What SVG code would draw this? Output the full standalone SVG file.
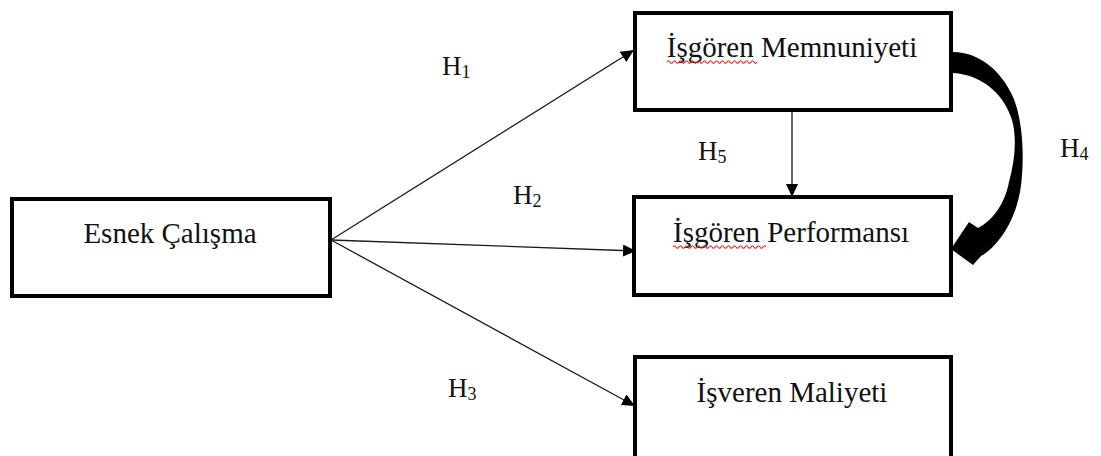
<svg xmlns="http://www.w3.org/2000/svg" width="1101" height="456" viewBox="0 0 1101 456">
  <style>
    .box { fill: #fff; stroke: #000; stroke-width: 4; }
    .label { font-family: "Liberation Serif", "Times New Roman", serif; font-size: 29px; fill: #111; }
    .hyp { font-family: "Liberation Serif", "Times New Roman", serif; font-size: 27px; fill: #111; }
    .sub { font-size: 18px; }
    .link { fill: none; stroke: #1a1a1a; stroke-width: 1.3; }
    .squiggle { fill: none; stroke: #e02020; stroke-width: 1.1; }
  </style>
  <defs>
    <marker id="tri" markerUnits="userSpaceOnUse" markerWidth="14" markerHeight="12" refX="13" refY="6" orient="auto">
      <path d="M0,0 L13,6 L0,12 Z" fill="#000"/>
    </marker>
  </defs>

  <rect width="1101" height="456" fill="#fff"/>

  <!-- straight connectors from the source box -->
  <g id="connectors">
    <line class="link" x1="331" y1="240" x2="634" y2="50" marker-end="url(#tri)"/>
    <line class="link" x1="331" y1="240" x2="636" y2="251" marker-end="url(#tri)"/>
    <line class="link" x1="331" y1="240" x2="635" y2="406" marker-end="url(#tri)"/>
    <line class="link" x1="792" y1="112" x2="792" y2="197" marker-end="url(#tri)"/>
    <!-- thick curved arrow between the two employee boxes -->
    <path d="M953,52 C980,52 1002,72 1013,97 C1022,118 1024,150 1022,175 C1020,215 1000,245 981,256 L973,265 L951,249 L969,222 L978,228 C992,221 1005,204 1009,182 C1015,160 1017,138 1012,120 C1005,97 985,75 953,73 Z" fill="#000"/>
  </g>

  <g id="node-esnek">
    <rect class="box" x="12" y="199" width="318" height="97"/>
    <text class="label" x="170" y="243" text-anchor="middle">Esnek Çalışma</text>
  </g>

  <g id="node-memnuniyet">
    <rect class="box" x="635" y="13" width="316" height="97"/>
    <text class="label" x="792" y="57" text-anchor="middle">İşgören Memnuniyeti</text>
    <path class="squiggle" d="M667,62 q1.5,-2.5 3,0 t3,0 t3,0 t3,0 t3,0 t3,0 t3,0 t3,0 t3,0 t3,0 t3,0 t3,0 t3,0 t3,0 t3,0 t3,0 t3,0 t3,0 t3,0 t3,0 t3,0 t3,0 t3,0 t3,0 t3,0 t3,0 t3,0 t3,0 t3,0 t3,0"/>
  </g>

  <g id="node-performans">
    <rect class="box" x="634" y="197" width="317" height="98"/>
    <text class="label" x="791" y="242" text-anchor="middle">İşgören Performansı</text>
    <path class="squiggle" d="M673,247 q1.5,-2.5 3,0 t3,0 t3,0 t3,0 t3,0 t3,0 t3,0 t3,0 t3,0 t3,0 t3,0 t3,0 t3,0 t3,0 t3,0 t3,0 t3,0 t3,0 t3,0 t3,0 t3,0 t3,0 t3,0 t3,0 t3,0 t3,0 t3,0 t3,0 t3,0 t3,0 t3,0"/>
  </g>

  <g id="node-maliyet">
    <rect class="box" x="635" y="357" width="316" height="104"/>
    <text class="label" x="792" y="402" text-anchor="middle">İşveren Maliyeti</text>
  </g>

  <g id="hypothesis-labels">
    <text class="hyp" x="442" y="75">H<tspan class="sub" dy="3">1</tspan></text>
    <text class="hyp" x="513" y="204">H<tspan class="sub" dy="3">2</tspan></text>
    <text class="hyp" x="448" y="397">H<tspan class="sub" dy="3">3</tspan></text>
    <text class="hyp" x="1060" y="157">H<tspan class="sub" dy="3">4</tspan></text>
    <text class="hyp" x="698" y="160">H<tspan class="sub" dy="3">5</tspan></text>
  </g>
</svg>
